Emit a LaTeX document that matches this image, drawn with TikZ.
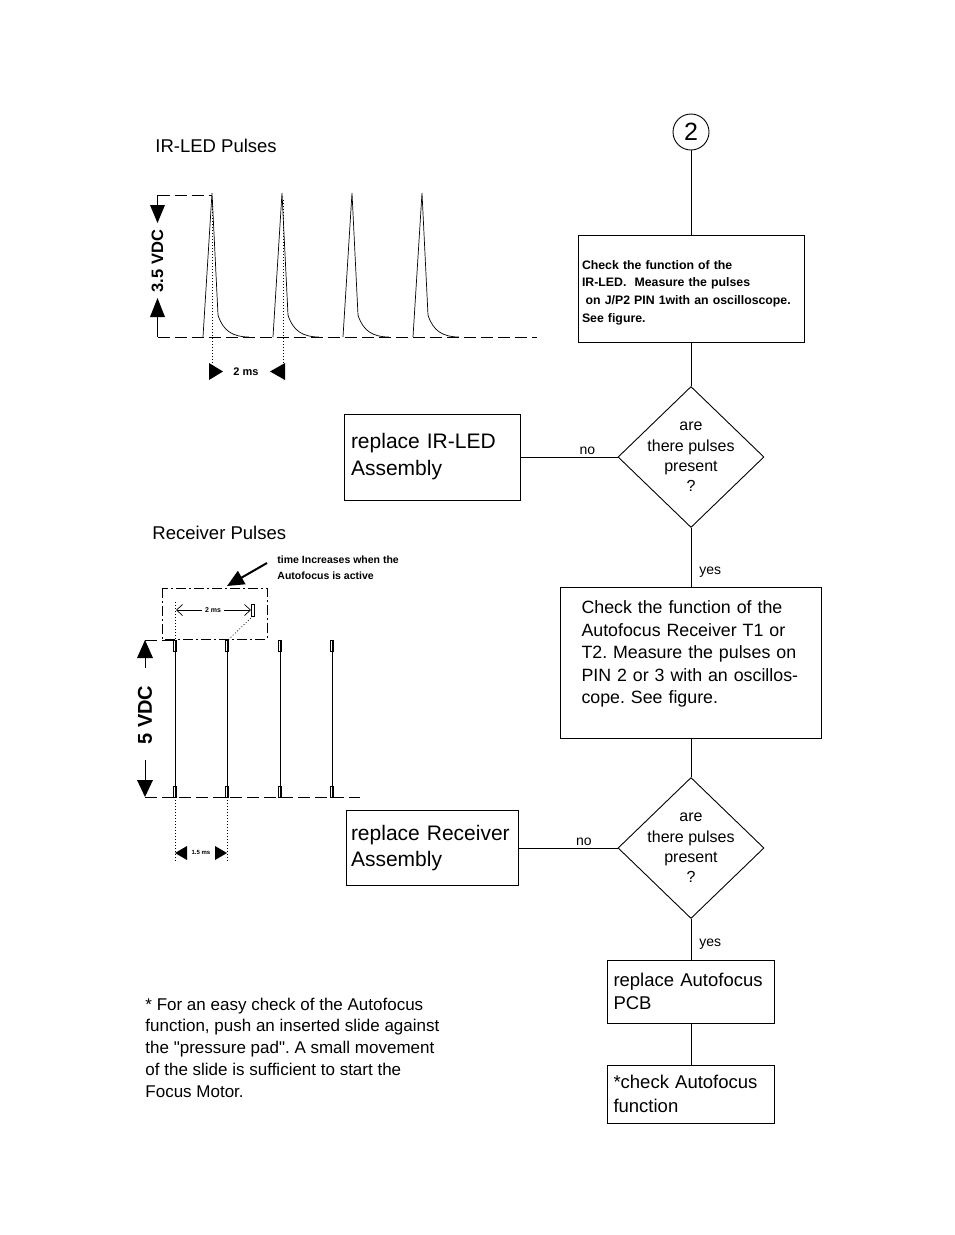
\documentclass[tikz,border=0pt]{standalone}
\usepackage{fontspec}
\setmainfont{Liberation Sans}
\usetikzlibrary{shapes.geometric,arrows.meta}
\frenchspacing
\tikzset{action/.style={draw,rectangle,align=left,inner ysep=4pt}}
\tikzset{decision/.style={draw,diamond,minimum width=146pt,minimum height=141pt,inner sep=0pt}}
\tikzset{query/.style={align=center,font=\fontsize{16}{20.3}\selectfont}}
\tikzset{answer/.style={font=\fontsize{14}{14}\selectfont,inner sep=2pt}}
\tikzset{axisdash/.style={dash pattern=on 12pt off 5pt}}
\tikzset{guide/.style={line width=0.6pt,dash pattern=on 1pt off 2pt}}
\tikzset{marker/.style={line width=0.5pt}}

\begin{document}
\begin{tikzpicture}[x=1pt,y=-1pt,line width=0.9pt]
\useasboundingbox (0,0) rectangle (954,1235);
\fill[white] (0,0) rectangle (954,1235);
% flow chart
\node[circle,draw,minimum size=36pt,inner sep=0pt,font=\fontsize{25}{25}\selectfont] (two) at (691,132) {2};
\node[action,node distance=156.5pt,text width=218pt,inner xsep=4pt,minimum height=107pt,
      font=\bfseries\fontsize{12.3}{17.7}\selectfont] (irtest) [below of=two]
      {\mbox{}\\[-1pt]Check the function of the\\IR-LED.\ \ Measure the pulses\\\hspace*{0.3em}on J/P2 PIN 1with an oscilloscope.\\See figure.} edge (two);
\node[decision,node distance=168.5pt,label={[query]center:are\\there pulses\\present\\?}] (irq) [below of=irtest] {} edge (irtest);
\node[action,node distance=259pt,text width=162pt,inner xsep=7pt,minimum height=86pt,
      font=\fontsize{21}{27}\selectfont] (irfix) [left of=irq]
      {replace IR-LED\\Assembly} edge node[answer,above,pos=0.69] {no} (irq);
\node[action,node distance=205.5pt,text width=219pt,inner xsep=21pt,minimum height=151pt,
      font=\fontsize{17.8}{22.5}\selectfont] (rxtest) [below of=irq]
      {Check the function of the\\Autofocus Receiver T1 or\\T2. Measure the pulses on\\PIN 2 or 3 with an oscillos-\\cope. See figure.\\[-2pt]\mbox{}}
      edge node[answer,right,pos=0.25,xshift=6pt] {yes} (irq);
\node[decision,node distance=185.5pt,label={[query]center:are\\there pulses\\present\\?}] (rxq) [below of=rxtest] {} edge (rxtest);
\node[action,node distance=259pt,text width=162pt,inner xsep=5pt,minimum height=75pt,
      font=\fontsize{21}{26}\selectfont] (rxfix) [left of=rxq]
      {replace Receiver\\Assembly} edge node[answer,above,pos=0.66] {no} (rxq);
\node[action,node distance=143.5pt,text width=155pt,inner xsep=6pt,minimum height=63pt,
      font=\fontsize{18.5}{23}\selectfont] (pcbfix) [below of=rxq]
      {replace Autofocus\\PCB} edge node[answer,right,pos=0.37,xshift=6pt] {yes} (rxq);
\node[action,node distance=102.5pt,text width=155pt,inner xsep=6pt,minimum height=58pt,
      font=\fontsize{18.5}{24}\selectfont] (afcheck) [below of=pcbfix]
      {*check Autofocus\\function} edge (pcbfix);

% IR-LED pulses
\node[anchor=west,inner sep=0pt,font=\fontsize{18.5}{18.5}\selectfont] (irtitle) at (155,146) {IR-LED Pulses};
\draw[axisdash] (157.5,195) -- (212,195);
\draw (157.5,195) -- (157.5,205);
\fill (150,205) -- (165,205) -- (157.5,223) -- cycle;
\node[rotate=90,inner sep=0pt,font=\bfseries\fontsize{16.5}{16.5}\selectfont] (irvolt) at (157.5,261) {3.5 VDC};
\fill (157.5,298) -- (150,317) -- (165,317) -- cycle;
\draw (157.5,317) -- (157.5,337);
\draw[axisdash] (157.5,337) -- (537,337);
\foreach \x in {203,273,343,413}
  \draw[line width=0.7pt] (\x,337) -- (\x+9,193) -- (\x+15,315)
        .. controls (\x+20,331) and (\x+30,337) .. (\x+46,337);
\draw[guide] (212,200) -- (212,380);
\draw[guide] (283,200) -- (283,380);
\fill (209,363) -- (209,380) -- (223,371.5) -- cycle;
\fill (285,363) -- (285,380) -- (270,371.5) -- cycle;
\node[inner sep=0pt,font=\bfseries\fontsize{11}{11}\selectfont] (irgap) at (246,372) {2 ms};

% receiver pulses
\node[anchor=west,inner sep=0pt,font=\fontsize{18.5}{18.5}\selectfont] (rxtitle) at (152,533) {Receiver Pulses};
\node[anchor=west,align=left,inner sep=0pt,font=\bfseries\fontsize{10.5}{16}\selectfont] (afnote) at (277,568)
      {time Increases when the\\Autofocus is active};
\coordinate (aftail) at (267,563);
\coordinate (aftip) at (227,586);
\draw[line width=2pt,-{Triangle[length=17pt,width=15pt]}] (aftail) -- (aftip);
\draw[line width=0.7pt,dash pattern=on 10pt off 3pt on 2pt off 3pt] (162,588) rectangle (267,639);
\draw[marker] (251.5,604) rectangle (254.5,616);
\draw[guide] (253,616) -- (228,640);
\draw[guide] (175,602) -- (175,640);
\draw[line width=0.7pt,-{Straight Barb[length=6pt,width=11pt]}] (202,610) -- (176,610);
\draw[line width=0.7pt,-{Straight Barb[length=6pt,width=11pt]}] (224,610) -- (251,610);
\node[inner sep=0pt,font=\bfseries\fontsize{7}{7}\selectfont] (rxgap) at (213,610) {2 ms};
\foreach \x in {175,227,280,332} {
  \draw[line width=0.7pt] (\x,640) -- (\x,797);
  \draw[marker] (\x-1.5,640) rectangle (\x+1.5,651);
  \draw[marker] (\x-1.5,786) rectangle (\x+1.5,797);
}
\draw[axisdash] (145,640) -- (175,640);
\fill (145,640) -- (137,658) -- (153,658) -- cycle;
\draw (145,658) -- (145,668);
\node[rotate=90,inner sep=0pt,font=\bfseries\fontsize{20}{20}\selectfont] (rxvolt) at (145,715) {5 VDC};
\draw (145,760) -- (145,780);
\fill (137,780) -- (153,780) -- (145,797) -- cycle;
\draw[axisdash] (145,797) -- (360,797);
\draw[guide] (175,797) -- (175,862);
\draw[guide] (227,797) -- (227,862);
\fill (175,853) -- (187,846) -- (187,860) -- cycle;
\fill (227,853) -- (215,846) -- (215,860) -- cycle;
\node[inner sep=0pt,font=\bfseries\fontsize{6}{6}\selectfont] (rxwidth) at (201,852) {1.5 ms};

% footnote
\node[anchor=west,align=left,inner sep=0pt,font=\fontsize{17}{21.75}\selectfont] (hint) at (145,1047.5)
      {* For an easy check of the Autofocus\\function, push an inserted slide against\\the \textquotedbl pressure pad\textquotedbl. A small movement\\of the slide is sufficient to start the\\Focus Motor.};
\end{tikzpicture}
\end{document}
